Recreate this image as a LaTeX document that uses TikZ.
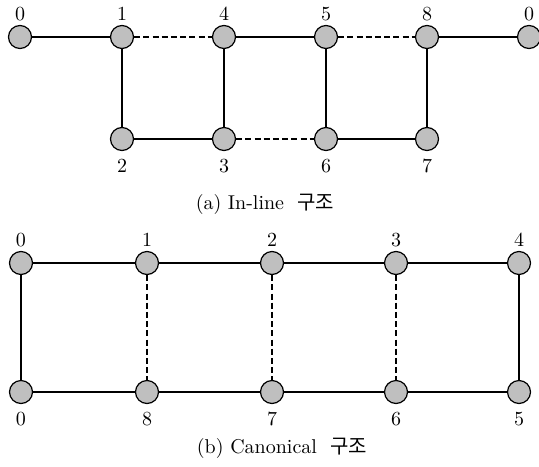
\documentclass[tikz,border=0pt]{standalone}
\usepackage{fontspec}
\newfontfamily\kr{Noto Sans CJK KR}
\usepackage{tikz}
\usetikzlibrary{positioning}
\tikzstyle{vertex}=[circle,fill=black!25,draw,minimum size=11.5pt,inner sep=0pt,line width=0.6pt]
\tikzstyle{undirectededge} = [draw,line width=0.6pt]
\tikzstyle{dashededge} = [draw,line width=0.6pt,dash pattern=on 3pt off 1.6pt]
\tikzstyle{num} = [font=\normalsize,inner sep=0pt]
\tikzstyle{caption} = [font=\normalsize]

\begin{document}
\begin{tikzpicture}[x=0.5pt,y=-0.5pt]
\useasboundingbox (0,0) rectangle (539,466);

%(a) In-line
	\def\ty{37};
	\def\by{139};

%top row
    \foreach \pos/\name/\label in {{(20,\ty)/a0/0}, {(122,\ty)/a1/1}, {(224,\ty)/a4/4}, {(326,\ty)/a5/5}, {(427,\ty)/a8/8}, {(529,\ty)/az/0}}
    {
        \node[vertex] (\name) at \pos {};
        \node[num, above=2pt of \name] (l\name) {$\label$};
    }
%bottom row
    \foreach \pos/\name/\label in {{(122,\by)/a2/2}, {(224,\by)/a3/3}, {(326,\by)/a6/6}, {(427,\by)/a7/7}}
    {
        \node[vertex] (\name) at \pos {};
        \node[num, below=4pt of \name] (l\name) {$\label$};
    }

    % Connect vertices
	\foreach \source/ \dest in {a0/a1, a4/a5, a8/az, a1/a2, a4/a3, a5/a6, a8/a7, a2/a3, a6/a7}
		\path[undirectededge] (\source) -- (\dest);
	\foreach \source/ \dest in {a1/a4, a5/a8, a3/a6}
		\path[dashededge] (\source) -- (\dest);

   \node[caption] (capa) at (265,204) {(a) In-line \ {\kr 구조}};

%(b) Canonical
	\def\ty{263};
	\def\by{392};

%top row
    \foreach \pos/\name/\label in {{(21,\ty)/b0/0}, {(147,\ty)/b1/1}, {(272,\ty)/b2/2}, {(396,\ty)/b3/3}, {(519,\ty)/b4/4}}
    {
        \node[vertex] (\name) at \pos {};
        \node[num, above=2pt of \name] (l\name) {$\label$};
    }
%bottom row
    \foreach \pos/\name/\label in {{(21,\by)/bz/0}, {(147,\by)/b8/8}, {(272,\by)/b7/7}, {(396,\by)/b6/6}, {(519,\by)/b5/5}}
    {
        \node[vertex] (\name) at \pos {};
        \node[num, below=4pt of \name] (l\name) {$\label$};
    }

    % Connect vertices
	\foreach \source/ \dest in {b0/b1, b1/b2, b2/b3, b3/b4, bz/b8, b8/b7, b7/b6, b6/b5, b0/bz, b4/b5}
		\path[undirectededge] (\source) -- (\dest);
	\foreach \source/ \dest in {b1/b8, b2/b7, b3/b6}
		\path[dashededge] (\source) -- (\dest);

   \node[caption] (capb) at (282,448) {(b) Canonical \ {\kr 구조}};

\end{tikzpicture}
\end{document}
